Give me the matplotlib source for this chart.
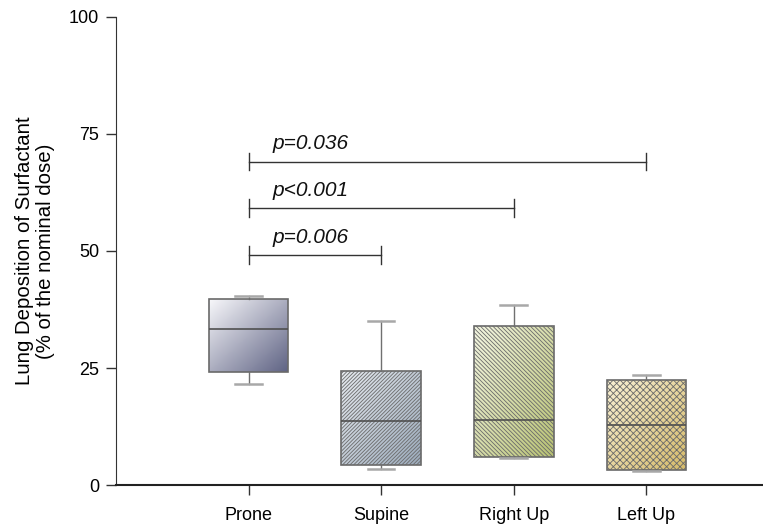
import numpy as np
import matplotlib
matplotlib.use("Agg")
import matplotlib.pyplot as plt
from matplotlib.colors import LinearSegmentedColormap

plt.rcParams['font.family'] = ['Liberation Sans', 'DejaVu Sans']

categories = ["Prone", "Supine", "Right Up", "Left Up"]
whisker_low = [21.6, 3.4, 5.8, 3.0]
q1 = [24.1, 4.3, 6.05, 3.2]
median = [33.4, 13.7, 14.0, 12.75]
q3 = [39.7, 24.3, 34.0, 22.4]
whisker_high = [40.4, 35.0, 38.5, 23.6]

comparisons = [(1, 2, 49.1, "p=0.006"), (1, 3, 59.1, "p<0.001"), (1, 4, 69.1, "p=0.036")]

grad_colors = [("#f8f8fb", "#5f6384"), ("#e6eaef", "#9cabbc"),
               ("#f4f6e2", "#b8c273"), ("#f8f0d3", "#d6bb6a")]
hatches = [None, "/" * 9, "\\" * 8, "x" * 5]

fig = plt.figure(figsize=(7.63, 5.25), dpi=100)
ax = fig.add_axes([0.152, 0.076, 0.848, 0.892])

positions = np.arange(1, len(categories) + 1)
stats = []
for i, c in enumerate(categories):
    stats.append(dict(label=c, whislo=whisker_low[i], q1=q1[i], med=median[i],
                      q3=q3[i], whishi=whisker_high[i], fliers=[]))

bp = ax.bxp(stats, positions=positions, widths=0.6, patch_artist=True,
            showfliers=False,
            boxprops=dict(edgecolor="#6a6a6a", linewidth=1.2, facecolor="none"),
            medianprops=dict(color="#505050", linewidth=1.2),
            whiskerprops=dict(color="#707070", linewidth=1.0),
            capprops=dict(color="#a8a8a8", linewidth=1.8),
            capwidths=0.2)

for i, box in enumerate(bp["boxes"]):
    verts = box.get_path().vertices
    x0, x1 = verts[:, 0].min(), verts[:, 0].max()
    y0, y1 = verts[:, 1].min(), verts[:, 1].max()
    cmap = LinearSegmentedColormap.from_list("g%d" % i, list(grad_colors[i]))
    n = 64
    gx, gy = np.meshgrid(np.linspace(0, 1, n), np.linspace(0, 1, n))
    grad = (gx + gy) / 2.0
    im = ax.imshow(grad, cmap=cmap, extent=(x0, x1, y0, y1), origin="upper",
                   aspect="auto", zorder=1.5, interpolation="bilinear")
    im.set_clip_path(box)
    box.set_zorder(2)
    if hatches[i]:
        box.set_hatch(hatches[i])
        if hasattr(box, "set_hatch_color"):
            box.set_hatch_color("#7a7a7a")
        if hasattr(box, "set_hatch_linewidth"):
            box.set_hatch_linewidth(0.6)

for a, b, y, txt in comparisons:
    ax.plot([a, b], [y, y], color="#333333", lw=1.0)
    for xx in (a, b):
        ax.plot([xx, xx], [y - 1.9, y + 1.9], color="#333333", lw=1.0)
    ax.text(a + 0.18, y + 2.6, txt, fontsize=15, style="italic", ha="left",
            va="baseline", color="#111111")

ax.set_xlim(0, 4.88)
ax.set_ylim(0, 100)
ax.set_xticks(positions)
ax.set_xticklabels(categories, fontsize=13)
ax.set_yticks([0, 25, 50, 75, 100])
ax.set_yticklabels(["0", "25", "50", "75", "100"], fontsize=13)
ax.tick_params(axis="y", direction="out", length=7, width=1.0, color="#333333", pad=5)
ax.tick_params(axis="x", direction="out", length=7, width=1.0, color="#333333", pad=9)
ax.spines["top"].set_visible(False)
ax.spines["right"].set_visible(False)
ax.spines["left"].set_color("#333333")
ax.spines["bottom"].set_color("#222222")
ax.spines["bottom"].set_linewidth(1.5)
ax.set_ylabel("Lung Deposition of Surfactant\n(% of the nominal dose)", fontsize=14.7,
              linespacing=1.15, labelpad=10)

fig.savefig("out.png", dpi=100)
